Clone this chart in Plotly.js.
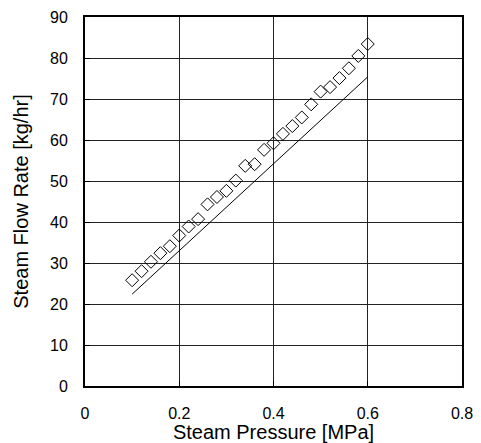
<!DOCTYPE html>
<html>
<head>
<meta charset="utf-8">
<script src="https://cdn.plot.ly/plotly-3.0.1.min.js"></script>
<style>
html,body{margin:0;padding:0;background:#fff;}
#chart{width:481px;height:443px;}
</style>
</head>
<body>
<div id="chart"></div>
<script>
// Measured data (open diamonds)
const pressure = [0.10, 0.12, 0.14, 0.16, 0.18, 0.20, 0.22, 0.24, 0.26, 0.28, 0.30, 0.32, 0.34, 0.36, 0.38, 0.40, 0.42, 0.44, 0.46, 0.48, 0.50, 0.52, 0.54, 0.56, 0.58, 0.60];
const flowRate = [25.8, 28.0, 30.3, 32.4, 34.1, 36.7, 38.9, 40.7, 44.3, 46.1, 47.6, 50.1, 53.7, 54.1, 57.6, 59.2, 61.5, 63.4, 65.5, 68.7, 71.8, 72.9, 75.1, 77.5, 80.5, 83.4];
// Calculated line
const linePressure = [0.10, 0.60];
const lineFlow = [22.4, 75.4];
// Axis ticks
const xTicks = [0, 0.2, 0.4, 0.6, 0.8];
const xTickText = ['0', '0.2', '0.4', '0.6', '0.8'];
const yTicks = [0, 10, 20, 30, 40, 50, 60, 70, 80, 90];

const traces = [
  {
    x: linePressure, y: lineFlow, type: 'scatter', mode: 'lines',
    line: {color: '#000', width: 1}, hoverinfo: 'skip', showlegend: false
  },
  {
    x: pressure, y: flowRate, type: 'scatter', mode: 'markers',
    marker: {symbol: 'diamond-open', size: 10, color: '#000', line: {color: '#000', width: 1}},
    showlegend: false
  }
];

const fontFam = 'Liberation Sans, Arial, sans-serif';
const layout = {
  width: 481, height: 443,
  margin: {l: 85, r: 19, t: 17, b: 57},
  paper_bgcolor: '#fff', plot_bgcolor: '#fff',
  showlegend: false,
  font: {family: fontFam, color: '#000', size: 16},
  xaxis: {
    range: [0, 0.8], tickvals: xTicks, ticktext: xTickText,
    showgrid: true, gridcolor: '#222', gridwidth: 1,
    zeroline: false, showline: true, linecolor: '#000', linewidth: 2, mirror: true,
    ticks: 'inside', ticklen: 5, tickcolor: '#000',
    ticklabelstandoff: 12,
    tickfont: {family: fontFam, size: 16, color: '#000'},
    title: {text: 'Steam Pressure [MPa]', font: {family: fontFam, size: 20, color: '#000'}, standoff: 0}
  },
  yaxis: {
    range: [0, 90], tickvals: yTicks,
    showgrid: true, gridcolor: '#222', gridwidth: 1,
    zeroline: false, showline: true, linecolor: '#000', linewidth: 2, mirror: true,
    ticks: 'inside', ticklen: 5, tickcolor: '#000',
    ticklabelstandoff: 12,
    tickfont: {family: fontFam, size: 16, color: '#000'},
    title: {text: 'Steam Flow Rate [kg/hr]', font: {family: fontFam, size: 20, color: '#000'}, standoff: 16}
  }
};

Plotly.newPlot('chart', traces, layout, {displayModeBar: false, staticPlot: true});
</script>
</body>
</html>
